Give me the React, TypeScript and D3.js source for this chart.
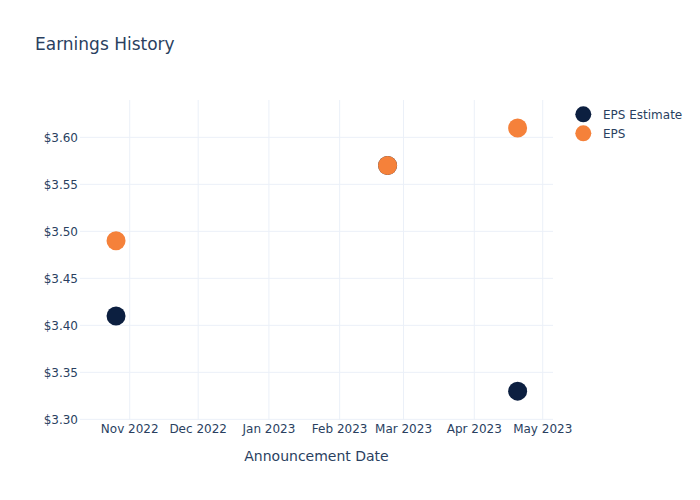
import React from "react";
import * as d3 from "d3";

const dates = ["2022-10-26", "2023-02-22", "2023-04-20"];
const epsEstimate = [3.41, 3.57, 3.33];
const eps = [3.49, 3.57, 3.61];
const yTicks = [3.3, 3.35, 3.4, 3.45, 3.5, 3.55, 3.6];
const seriesNames = ["EPS Estimate", "EPS"];
const seriesColors = ["#0c1f40", "#f5813a"];

const W = 700, H = 500;
const left = 80, right = 553, top = 100, bottom = 420;
const font = "'DejaVu Sans', verdana, arial, sans-serif";
const textColor = "#2a3f5f";
const gridColor = "#ebf0f8";

const parse = d3.utcParse("%Y-%m-%d");

export default function App() {
  const x = d3
    .scaleUtc()
    .domain([new Date(Date.UTC(2022, 9, 10, 5)), new Date(Date.UTC(2023, 4, 5, 12))])
    .range([left, right]);
  const y = d3.scaleLinear().domain([3.2993, 3.6397]).range([bottom, top]);
  const xTicks = x.ticks(d3.utcMonth.every(1));
  const fmt = d3.utcFormat("%b %Y");
  const series = [epsEstimate, eps];

  return (
    <svg width={W} height={H} style={{ position: "absolute", left: 0, top: 0, background: "#fff" }}>
      <rect x={0} y={0} width={W} height={H} fill="#fff" />
      <text x={35} y={50} fontFamily={font} fontSize={17} fill={textColor}>
        Earnings History
      </text>
      {xTicks.map((t, i) => (
        <line key={"gx" + i} x1={x(t)} x2={x(t)} y1={top} y2={bottom} stroke={gridColor} strokeWidth={1} />
      ))}
      {yTicks.map((v, i) => (
        <line key={"gy" + i} x1={left} x2={right} y1={y(v)} y2={y(v)} stroke={gridColor} strokeWidth={1} />
      ))}
      {xTicks.map((t, i) => (
        <text key={"tx" + i} x={x(t)} y={433} textAnchor="middle" fontFamily={font} fontSize={12} fill={textColor}>
          {fmt(t)}
        </text>
      ))}
      {yTicks.map((v, i) => (
        <text key={"ty" + i} x={78} y={y(v)} dy="0.35em" textAnchor="end" fontFamily={font} fontSize={12} fill={textColor}>
          {"$" + v.toFixed(2)}
        </text>
      ))}
      <text x={(left + right) / 2} y={461} textAnchor="middle" fontFamily={font} fontSize={14} fill={textColor}>
        Announcement Date
      </text>
      {series.map((vals, si) =>
        vals.map((v, i) => (
          <circle
            key={"p" + si + "-" + i}
            cx={x(parse(dates[i]) as Date)}
            cy={y(v)}
            r={9.5}
            fill={seriesColors[si]}
          />
        ))
      )}
      {seriesNames.map((n, i) => (
        <g key={"lg" + i}>
          <circle cx={583.3} cy={114.3 + i * 19} r={8} fill={seriesColors[i]} />
          <text x={603} y={114.3 + i * 19} dy="0.35em" fontFamily={font} fontSize={12} fill={textColor}>
            {n}
          </text>
        </g>
      ))}
    </svg>
  );
}
